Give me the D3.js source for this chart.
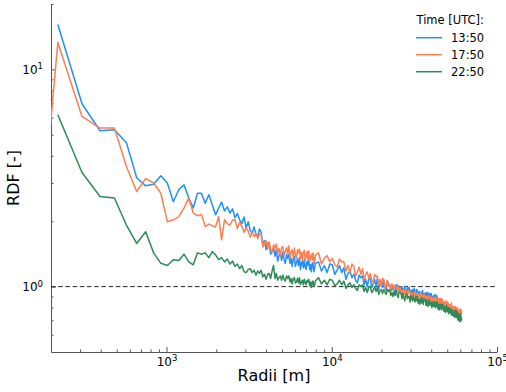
<!DOCTYPE html>
<html>
<head>
<meta charset="utf-8">
<script src="https://d3js.org/d3.v7.min.js"></script>
<style>
body { margin: 0; background: #fff; }
text { font-family: "DejaVu Sans", sans-serif; }
</style>
</head>
<body>
<script>
// radial distribution function per time step
// bins: 88 m up to 8 km, then every 4th bin (352 m) out to ~61 km
var radii = d3.range(132, 8000, 88).concat(d3.range(8316, 61200, 352));

var times = ["13:50", "17:50", "22:50"];
var colors = ["#1E90FF", "#FF7F50", "#2E8B57"];

var rdf1350 = [null,
	16.1, 6.95, 5.22, 5.28, 4.6, 3.17, 2.91, 2.96, 3.24, 3.0,
	2.46, 2.80, 2.94, 2.56, 2.30, 2.69, 2.69, 2.42, 2.65, 2.38,
	2.14, 2.30, 2.45, 2.23, 2.33, 2.18, 2.28, 2.08, 2.17, 2.03,
	1.95, 2.09, 1.86, 1.99, 1.81, 1.76, 1.88, 1.74, 1.71, 1.84,
	1.78, 1.57, 1.63, 1.48, 1.59, 1.58, 1.41, 1.45, 1.50, 1.38,
	1.48, 1.31, 1.39, 1.42, 1.32, 1.44, 1.33, 1.28, 1.40,
	1.35, 1.41, 1.28, 1.35, 1.24, 1.35, 1.38, 1.24, 1.29, 1.34,
	1.25, 1.36, 1.20, 1.28, 1.31, 1.22, 1.33, 1.23, 1.20, 1.31,
	1.26, 1.33, 1.20, 1.26, 1.17, 1.28, 1.29, 1.17, 1.22, 1.28,
	// far bins
	1.30, 1.18, 1.25, 1.16, 1.27, 1.26, 1.14, 1.19, 1.25, 1.16,
	1.22, 1.08, 1.15, 1.18, 1.10, 1.14, 1.07, 1.04, 1.13, 1.10,
	1.12, 1.02, 1.08, 1.00, 1.09, 1.09, 0.99, 1.03, 1.08, 1.01,
	1.09, 0.97, 1.03, 1.06, 0.99, 1.07, 0.99, 0.96, 1.06, 1.03,
	1.02, 1.00, 0.96, 1.01, 0.97, 0.95, 1.00, 1.02, 0.97, 0.98,
	0.99, 0.94, 1.00, 0.97, 0.95, 1.00, 0.95, 0.94, 0.99, 0.95,
	0.99, 0.93, 0.96, 0.92, 0.97, 0.93, 0.98, 0.94, 0.91, 0.97,
	0.96, 0.94, 0.90, 0.95, 0.91, 0.89, 0.94, 0.96, 0.91, 0.92,
	0.93, 0.88, 0.94, 0.91, 0.89, 0.94, 0.90, 0.88, 0.93, 0.89,
	0.93, 0.87, 0.90, 0.86, 0.91, 0.87, 0.92, 0.88, 0.85, 0.91,
	0.89, 0.87, 0.83, 0.88, 0.84, 0.81, 0.86, 0.88, 0.83, 0.84,
	0.84, 0.79, 0.85, 0.81, 0.80, 0.84, 0.80, 0.78, 0.83, 0.79,
	0.82, 0.76, 0.79, 0.76, 0.80, 0.76, 0.80, 0.76, 0.74, 0.79,
	0.78, 0.76, 0.73, 0.77, 0.73, 0.72, 0.76, 0.78, 0.73, 0.74,
	0.75, 0.70, 0.75, 0.72, 0.71, 0.74, 0.71, 0.69, 0.73, 0.70,
	0.70];

var rdf1750 = [0.17,
	13.3, 6.07, 5.37, 5.37, 3.57, 2.74, 3.14, 3.00, 2.69, 1.99,
	2.03, 2.10, 2.30, 2.56, 2.18, 2.12, 2.15, 1.89, 1.94, 1.91,
	1.88, 2.10, 1.64, 2.03, 1.95, 1.92, 2.02, 2.04, 1.85, 1.98,
	1.89, 1.78, 1.86, 1.80, 1.69, 1.79, 1.70, 1.76, 1.66, 1.74,
	1.75, 1.52, 1.60, 1.63, 1.49, 1.61, 1.49, 1.43, 1.56, 1.50,
	1.57, 1.42, 1.50, 1.38, 1.51, 1.53, 1.39, 1.45, 1.51,
	1.41, 1.54, 1.35, 1.44, 1.48, 1.37, 1.50, 1.40, 1.35, 1.48,
	1.43, 1.49, 1.35, 1.44, 1.32, 1.44, 1.47, 1.32, 1.38, 1.45,
	1.34, 1.46, 1.30, 1.37, 1.41, 1.32, 1.43, 1.33, 1.28, 1.40,
	// far bins
	1.43, 1.27, 1.35, 1.39, 1.30, 1.35, 1.26, 1.23, 1.34, 1.30,
	1.30, 1.18, 1.25, 1.16, 1.27, 1.24, 1.12, 1.17, 1.23, 1.14,
	1.21, 1.07, 1.14, 1.17, 1.09, 1.15, 1.07, 1.04, 1.14, 1.11,
	1.12, 1.02, 1.08, 1.00, 1.09, 1.08, 0.98, 1.02, 1.07, 1.00,
	1.02, 0.96, 1.03, 0.99, 0.97, 1.02, 0.97, 0.95, 1.01, 0.96,
	0.99, 0.93, 0.96, 0.92, 0.97, 0.92, 0.97, 0.93, 0.90, 0.96,
	0.95, 0.94, 0.89, 0.94, 0.90, 0.88, 0.93, 0.95, 0.90, 0.92,
	0.92, 0.87, 0.93, 0.90, 0.88, 0.93, 0.89, 0.87, 0.92, 0.88,
	0.92, 0.86, 0.90, 0.85, 0.90, 0.86, 0.91, 0.87, 0.84, 0.90,
	0.89, 0.88, 0.83, 0.89, 0.84, 0.83, 0.89, 0.90, 0.85, 0.87,
	0.88, 0.82, 0.88, 0.85, 0.83, 0.88, 0.84, 0.82, 0.88, 0.83,
	0.87, 0.81, 0.84, 0.80, 0.85, 0.81, 0.86, 0.82, 0.79, 0.85,
	0.84, 0.82, 0.78, 0.83, 0.79, 0.77, 0.82, 0.84, 0.79, 0.81,
	0.80, 0.76, 0.81, 0.78, 0.77, 0.81, 0.77, 0.76, 0.80, 0.77,
	0.80, 0.74, 0.77, 0.73, 0.78, 0.74, 0.79, 0.75, 0.73, 0.78,
	0.75];

var rdf2250 = [null,
	6.18, 3.35, 2.60, 2.56, 1.92, 1.58, 1.79, 1.43, 1.28, 1.25,
	1.33, 1.32, 1.41, 1.30, 1.26, 1.43, 1.41, 1.43, 1.36, 1.45,
	1.40, 1.33, 1.36, 1.30, 1.34, 1.27, 1.31, 1.24, 1.27, 1.21,
	1.25, 1.17, 1.16, 1.20, 1.21, 1.16, 1.19, 1.13, 1.18, 1.15,
	1.19, 1.11, 1.14, 1.08, 1.14, 1.15, 1.09, 1.18, 1.25, 1.09,
	1.15, 1.07, 1.10, 1.12, 1.07, 1.13, 1.08, 1.06, 1.12,
	1.09, 1.12, 1.05, 1.09, 1.03, 1.09, 1.10, 1.04, 1.05, 1.09,
	1.04, 1.10, 1.02, 1.05, 1.07, 1.02, 1.08, 1.04, 1.02, 1.07,
	1.05, 1.08, 1.01, 1.05, 0.99, 1.05, 1.06, 1.00, 1.02, 1.06,
	// far bins
	1.10, 1.03, 1.07, 1.02, 1.08, 1.07, 1.01, 1.03, 1.07, 1.02,
	1.06, 0.98, 1.02, 1.04, 0.99, 1.02, 0.98, 0.96, 1.02, 1.00,
	1.02, 0.95, 0.99, 0.94, 1.00, 1.00, 0.94, 0.96, 1.00, 0.95,
	0.99, 0.92, 0.96, 0.97, 0.93, 0.97, 0.94, 0.92, 0.97, 0.95,
	0.97, 0.91, 0.94, 0.90, 0.95, 0.91, 0.96, 0.92, 0.89, 0.95,
	0.94, 0.93, 0.88, 0.93, 0.89, 0.86, 0.91, 0.93, 0.88, 0.90,
	0.90, 0.85, 0.91, 0.88, 0.86, 0.91, 0.87, 0.85, 0.90, 0.86,
	0.90, 0.84, 0.87, 0.83, 0.88, 0.84, 0.89, 0.85, 0.83, 0.88,
	0.87, 0.86, 0.82, 0.87, 0.82, 0.81, 0.86, 0.87, 0.82, 0.84,
	0.85, 0.80, 0.85, 0.82, 0.81, 0.85, 0.81, 0.80, 0.85, 0.81,
	0.85, 0.79, 0.82, 0.78, 0.83, 0.79, 0.83, 0.80, 0.78, 0.83,
	0.82, 0.81, 0.77, 0.81, 0.78, 0.76, 0.80, 0.82, 0.77, 0.79,
	0.80, 0.75, 0.80, 0.78, 0.76, 0.79, 0.76, 0.74, 0.78, 0.75,
	0.78, 0.73, 0.76, 0.73, 0.77, 0.74, 0.78, 0.74, 0.72, 0.77,
	0.75, 0.74, 0.71, 0.75, 0.71, 0.69, 0.73, 0.75, 0.70, 0.72,
	0.70];

var series = [rdf1350, rdf1750, rdf2250];

// ticks
var xMajor = [1e3, 1e4, 1e5];
var xMinor = [300, 400, 500, 600, 700, 800, 900,
	2000, 3000, 4000, 5000, 6000, 7000, 8000, 9000,
	20000, 30000, 40000, 50000, 60000, 70000, 80000, 90000];
var yMajor = [1, 10];
var yMinor = [0.6, 0.7, 0.8, 0.9, 2, 3, 4, 5, 6, 7, 8, 9, 20];

var width = 506, height = 392;
// plot box (named so they don't clash with window.top etc)
var plotL = 51, plotR = 497, plotT = 4, plotB = 352;

var svg = d3.select("body").append("svg")
	.attr("width", width)
	.attr("height", height);

var x = d3.scaleLog().domain([200, 1e5]).range([plotL, plotR]);
var y = d3.scaleLog().domain([0.5, 20]).range([plotB, plotT]);

svg.append("clipPath").attr("id", "plotclip")
	.append("rect")
	.attr("x", plotL).attr("y", plotT)
	.attr("width", plotR - plotL).attr("height", plotB - plotT);

// superscript labels 10^n
function powLabel(sel) {
	sel.each(function(d) {
		var t = d3.select(this);
		t.text("10");
		t.append("tspan")
			.attr("dy", "-0.5em")
			.attr("font-size", "8.5px")
			.text(Math.round(Math.log10(d)));
	});
}

var axisColor = "#555";

// x axis
var gx = svg.append("g").attr("transform", "translate(0," + plotB + ")");
gx.append("g")
	.call(d3.axisBottom(x).tickValues(xMinor).tickSize(-2.5).tickSizeOuter(0).tickFormat(""))
	.call(function(g){ g.select(".domain").remove(); });
gx.append("g")
	.call(d3.axisBottom(x).tickValues(xMajor).tickSize(-5).tickSizeOuter(0).tickPadding(5))
	.call(function(g){ g.selectAll(".tick text").call(powLabel); });

// y axis
var gy = svg.append("g").attr("transform", "translate(" + plotL + ",0)");
gy.append("g")
	.call(d3.axisLeft(y).tickValues(yMinor).tickSize(-2.5).tickSizeOuter(0).tickFormat(""))
	.call(function(g){ g.select(".domain").remove(); });
gy.append("g")
	.call(d3.axisLeft(y).tickValues(yMajor).tickSize(-5).tickSizeOuter(0).tickPadding(8))
	.call(function(g){ g.selectAll(".tick text").call(powLabel); });

svg.selectAll(".domain, .tick line").attr("stroke", axisColor).attr("stroke-width", 1);
svg.selectAll(".tick text")
	.attr("fill", "#000")
	.attr("font-size", "12px")
	.attr("font-family", "DejaVu Sans, sans-serif");

// reference line at RDF = 1
svg.append("line")
	.attr("x1", plotL).attr("x2", plotR)
	.attr("y1", y(1)).attr("y2", y(1))
	.attr("stroke", "#222")
	.attr("stroke-width", 1)
	.attr("stroke-dasharray", "4.5,2.7");

// the curves
var line = d3.line()
	.defined(function(d){ return d[1] != null; })
	.x(function(d){ return x(d[0]); })
	.y(function(d){ return y(d[1]); });

var plot = svg.append("g").attr("clip-path", "url(#plotclip)");
series.forEach(function(vals, i){
	plot.append("path")
		.datum(radii.map(function(r, k){ return [r, vals[k]]; }))
		.attr("fill", "none")
		.attr("stroke", colors[i])
		.attr("stroke-width", 1.5)
		.attr("stroke-linejoin", "round")
		.attr("d", line);
});

// axis titles
svg.append("text")
	.attr("x", (plotL + plotR) / 2)
	.attr("y", 381)
	.attr("text-anchor", "middle")
	.attr("font-size", "16px")
	.text("Radii [m]");

svg.append("text")
	.attr("transform", "translate(19," + ((plotT + plotB) / 2) + ") rotate(-90)")
	.attr("text-anchor", "middle")
	.attr("font-size", "16px")
	.text("RDF [-]");

// legend
var legend = svg.append("g");
legend.append("text")
	.attr("x", 416.5)
	.attr("y", 24)
	.attr("font-size", "11.5px")
	.text("Time [UTC]:");
times.forEach(function(t, i){
	var ly = 37.7 + 17 * i;
	legend.append("line")
		.attr("x1", 416).attr("x2", 442)
		.attr("y1", ly).attr("y2", ly)
		.attr("stroke", colors[i])
		.attr("stroke-width", 1.5);
	legend.append("text")
		.attr("x", 451)
		.attr("y", ly + 4.2)
		.attr("font-size", "11.5px")
		.text(t);
});
</script>
</body>
</html>
